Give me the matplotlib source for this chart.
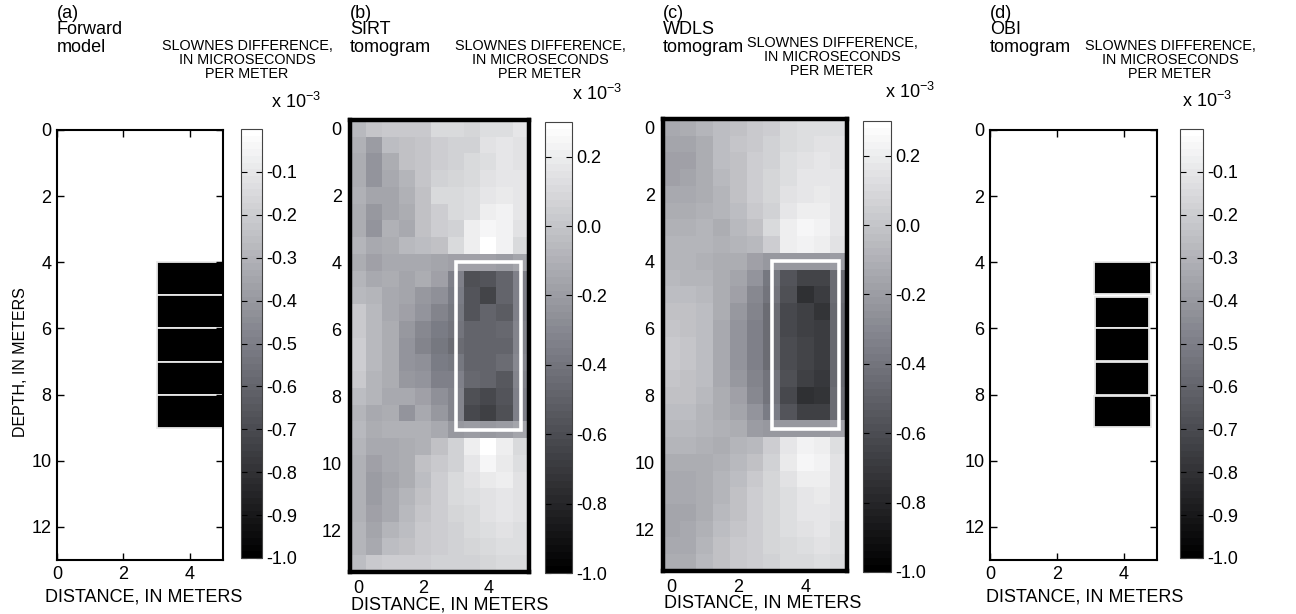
import numpy as np
import matplotlib
matplotlib.use('Agg')
import matplotlib.pyplot as plt
from matplotlib.colors import LinearSegmentedColormap, Normalize
from matplotlib.patches import Rectangle
import matplotlib.cm as cm

plt.rcParams['font.family'] = ['Liberation Sans', 'DejaVu Sans']
plt.rcParams['axes.unicode_minus'] = False
plt.rcParams['mathtext.fontset'] = 'custom'
plt.rcParams['mathtext.rm'] = 'Liberation Sans'
plt.rcParams['mathtext.it'] = 'Liberation Sans:italic'

# ---------------- data ----------------
panel_labels = ['(a)', '(b)', '(c)', '(d)']
panel_titles = [['Forward', 'model'], ['SIRT', 'tomogram'], ['WDLS', 'tomogram'], ['OBI', 'tomogram']]
cbar_header = ['SLOWNES DIFFERENCE,', 'IN MICROSECONDS', 'PER METER']
xlabel = 'DISTANCE, IN METERS'
ylabel = 'DEPTH, IN METERS'
x_ticks = [0, 2, 4]
y_ticks = [0, 2, 4, 6, 8, 10, 12]
cbar_ticks_model = [-1.0, -0.9, -0.8, -0.7, -0.6, -0.5, -0.4, -0.3, -0.2, -0.1]
cbar_ticks_tomo = [-1.0, -0.8, -0.6, -0.4, -0.2, 0.0, 0.2]

# slowness difference (x 10^-3), 27 depth cells (0 .. 13 m) x 11 distance cells (0 .. 5 m)
sirt = np.array([
    [-0.06, 0.00, 0.02, 0.03, 0.02, 0.10, 0.10, 0.08, 0.12, 0.12, 0.16],
    [-0.09, -0.19, -0.03, -0.01, 0.01, 0.05, 0.07, 0.07, 0.15, 0.16, 0.15],
    [-0.11, -0.23, -0.11, -0.01, 0.01, 0.05, 0.07, 0.10, 0.13, 0.16, 0.15],
    [-0.11, -0.23, -0.13, -0.08, 0.01, 0.07, 0.08, 0.11, 0.15, 0.17, 0.16],
    [-0.09, -0.16, -0.16, -0.09, -0.01, 0.11, 0.10, 0.13, 0.16, 0.18, 0.17],
    [-0.11, -0.21, -0.16, -0.11, -0.01, 0.05, 0.10, 0.13, 0.20, 0.22, 0.17],
    [-0.11, -0.23, -0.09, -0.13, -0.01, 0.05, 0.07, 0.21, 0.25, 0.22, 0.15],
    [-0.08, -0.13, -0.11, -0.06, -0.04, -0.01, 0.10, 0.20, 0.29, 0.22, 0.10],
    [-0.11, -0.18, -0.13, -0.13, -0.14, -0.16, -0.18, -0.18, -0.18, -0.19, -0.16],
    [-0.08, -0.13, -0.12, -0.16, -0.11, -0.18, -0.34, -0.59, -0.57, -0.49, -0.34],
    [-0.06, -0.08, -0.13, -0.16, -0.21, -0.26, -0.36, -0.57, -0.64, -0.49, -0.34],
    [0.02, -0.06, -0.13, -0.18, -0.23, -0.31, -0.39, -0.57, -0.49, -0.52, -0.34],
    [0.02, -0.06, -0.11, -0.21, -0.29, -0.36, -0.41, -0.49, -0.49, -0.46, -0.31],
    [0.05, -0.06, -0.11, -0.23, -0.31, -0.39, -0.44, -0.49, -0.49, -0.49, -0.31],
    [0.05, -0.06, -0.11, -0.23, -0.26, -0.36, -0.39, -0.49, -0.49, -0.44, -0.29],
    [0.02, -0.08, -0.11, -0.21, -0.23, -0.34, -0.34, -0.46, -0.49, -0.54, -0.31],
    [-0.03, -0.08, -0.13, -0.13, -0.18, -0.26, -0.31, -0.59, -0.62, -0.57, -0.34],
    [-0.08, -0.13, -0.11, -0.23, -0.13, -0.21, -0.31, -0.62, -0.67, -0.59, -0.34],
    [-0.06, -0.11, -0.09, -0.09, -0.09, -0.13, -0.21, -0.19, -0.21, -0.19, -0.16],
    [-0.08, -0.13, -0.14, -0.11, -0.09, -0.01, 0.07, 0.20, 0.28, 0.20, 0.10],
    [-0.09, -0.17, -0.14, -0.12, -0.01, 0.02, 0.07, 0.17, 0.25, 0.18, 0.13],
    [-0.09, -0.19, -0.16, -0.11, -0.03, 0.05, 0.10, 0.15, 0.18, 0.20, 0.15],
    [-0.09, -0.19, -0.14, -0.08, -0.01, 0.05, 0.10, 0.12, 0.15, 0.17, 0.15],
    [-0.09, -0.18, -0.13, -0.06, 0.01, 0.05, 0.08, 0.11, 0.15, 0.16, 0.15],
    [-0.08, -0.16, -0.08, -0.03, 0.02, 0.05, 0.07, 0.11, 0.13, 0.15, 0.13],
    [-0.07, -0.13, -0.03, -0.01, 0.02, 0.05, 0.06, 0.08, 0.11, 0.13, 0.12],
    [-0.03, 0.02, 0.05, 0.05, 0.05, 0.06, 0.07, 0.07, 0.08, 0.10, 0.10],
])

wdls = np.array([
    [-0.13, -0.12, -0.08, -0.03, -0.01, 0.02, 0.05, 0.10, 0.12, 0.13, 0.13],
    [-0.16, -0.16, -0.11, -0.03, 0.01, 0.03, 0.06, 0.11, 0.13, 0.15, 0.15],
    [-0.17, -0.17, -0.12, -0.04, -0.01, 0.05, 0.07, 0.12, 0.15, 0.16, 0.15],
    [-0.17, -0.16, -0.11, -0.06, -0.01, 0.05, 0.08, 0.13, 0.16, 0.17, 0.16],
    [-0.13, -0.13, -0.12, -0.07, -0.02, 0.05, 0.08, 0.15, 0.17, 0.18, 0.16],
    [-0.11, -0.11, -0.09, -0.08, -0.03, 0.02, 0.07, 0.16, 0.20, 0.20, 0.16],
    [-0.09, -0.09, -0.08, -0.11, -0.06, -0.01, 0.10, 0.20, 0.25, 0.22, 0.16],
    [-0.08, -0.08, -0.08, -0.09, -0.08, -0.06, 0.05, 0.20, 0.22, 0.20, 0.15],
    [-0.08, -0.08, -0.09, -0.11, -0.12, -0.18, -0.21, -0.21, -0.21, -0.21, -0.19],
    [-0.06, -0.07, -0.08, -0.11, -0.16, -0.23, -0.39, -0.57, -0.64, -0.64, -0.44],
    [-0.03, -0.04, -0.06, -0.12, -0.18, -0.29, -0.41, -0.59, -0.74, -0.69, -0.44],
    [-0.01, -0.02, -0.04, -0.12, -0.21, -0.31, -0.44, -0.62, -0.67, -0.72, -0.46],
    [0.01, -0.01, -0.03, -0.13, -0.23, -0.34, -0.45, -0.62, -0.67, -0.69, -0.46],
    [0.02, 0.01, -0.03, -0.13, -0.23, -0.34, -0.45, -0.60, -0.65, -0.68, -0.46],
    [0.02, 0.01, -0.03, -0.13, -0.23, -0.34, -0.44, -0.60, -0.64, -0.68, -0.46],
    [0.01, -0.01, -0.04, -0.13, -0.21, -0.31, -0.41, -0.59, -0.67, -0.70, -0.46],
    [-0.01, -0.02, -0.06, -0.12, -0.18, -0.29, -0.41, -0.62, -0.74, -0.72, -0.45],
    [-0.03, -0.04, -0.07, -0.11, -0.16, -0.23, -0.36, -0.57, -0.67, -0.67, -0.44],
    [-0.06, -0.06, -0.08, -0.09, -0.12, -0.19, -0.21, -0.21, -0.21, -0.21, -0.18],
    [-0.08, -0.08, -0.09, -0.11, -0.08, -0.06, 0.05, 0.17, 0.22, 0.20, 0.13],
    [-0.11, -0.11, -0.11, -0.09, -0.06, -0.01, 0.07, 0.18, 0.25, 0.22, 0.15],
    [-0.13, -0.13, -0.12, -0.08, -0.03, 0.02, 0.08, 0.15, 0.20, 0.20, 0.15],
    [-0.14, -0.14, -0.12, -0.07, -0.02, 0.05, 0.08, 0.13, 0.17, 0.18, 0.15],
    [-0.16, -0.16, -0.11, -0.06, -0.01, 0.05, 0.08, 0.12, 0.16, 0.17, 0.15],
    [-0.16, -0.14, -0.09, -0.04, 0.01, 0.05, 0.08, 0.12, 0.15, 0.16, 0.13],
    [-0.14, -0.13, -0.07, -0.02, 0.02, 0.05, 0.08, 0.11, 0.13, 0.15, 0.12],
    [-0.12, -0.11, -0.06, -0.01, 0.02, 0.05, 0.07, 0.10, 0.11, 0.12, 0.11],
])

# forward-model blocks (a) and OBI blocks (d): x0, x1, y0, y1, value
model_x0 = [3.0, 3.0, 3.0, 3.0, 3.0]
model_x1 = [5.0, 5.0, 5.0, 5.0, 5.0]
model_y0 = [4.0, 5.0, 6.0, 7.0, 8.0]
model_y1 = [5.0, 6.0, 7.0, 8.0, 9.0]
model_val = [-1.0, -1.0, -1.0, -1.0, -1.0]

obi_x0 = [3.10, 3.15, 3.15, 3.15, 3.12]
obi_x1 = [4.82, 4.77, 4.77, 4.77, 4.82]
obi_y0 = [4.0, 5.05, 6.0, 7.0, 8.05]
obi_y1 = [4.97, 6.0, 6.97, 8.0, 8.98]
obi_val = [-1.0, -1.0, -1.0, -1.0, -1.0]

target_box = (3.0, 4.0, 5.0, 9.0)  # x0, y0, x1, y1
tomo_extent = (-0.25, 5.25, 13.25, -0.25)

# ---------------- style ----------------
W, H = 1296, 614
cmap = LinearSegmentedColormap.from_list(
    'mgray', [(0, 0, 0), (0.49, 0.495, 0.53), (1, 1, 1)], N=64)
norm_model = Normalize(-1.0, 0.0)
norm_tomo = Normalize(-1.0, 0.3)
FS = 13


def box(x0, y0, x1, y1):
    return [x0 / W, 1 - y1 / H, (x1 - x0) / W, (y1 - y0) / H]


fig = plt.figure(figsize=(W / 100, H / 100), dpi=100)

ax_pos = [box(57, 130, 223, 560), box(350, 120, 529, 572),
          box(663, 119, 847, 571), box(990, 130, 1157, 560)]
cb_pos = [box(241, 129, 262, 558), box(545, 122, 572, 573),
          box(863, 121, 891, 572), box(1180, 129, 1203, 558)]
title_x = [57, 350, 663, 990]
title_y = [(13, 30, 47)] * 4
hdr_x = [247, 540, 832, 1170]
hdr_y = [(46, 60, 74), (46, 60, 74), (43, 57, 71), (46, 60, 74)]
exp_xy = [(271, 102), (572, 94), (885, 92), (1182, 101)]
xlabel_cx = [144, 450, 763, 1085]     # label centre, px
xlabel_top = [589, 596, 595, 589]     # label top, px

axes = [fig.add_axes(p) for p in ax_pos]

# (a) forward model and (d) OBI
for ax, xs0, xs1, ys0, ys1, vals in [
        (axes[0], model_x0, model_x1, model_y0, model_y1, model_val),
        (axes[3], obi_x0, obi_x1, obi_y0, obi_y1, obi_val)]:
    for x0, x1, y0, y1, v in zip(xs0, xs1, ys0, ys1, vals):
        ax.add_patch(Rectangle((x0, y0), x1 - x0, y1 - y0,
                               facecolor=cmap(norm_model(v)),
                               edgecolor='#e8e8e8', linewidth=1.3))
    ax.set_xlim(0, 5)
    ax.set_ylim(13, 0)
    for s in ax.spines.values():
        s.set_linewidth(1.5)
    ax.tick_params(direction='in', top=True, right=True, length=5,
                   width=1, labelsize=FS, pad=4)

# (b) SIRT and (c) WDLS
tomo_ims = []
for ax, data in [(axes[1], sirt), (axes[2], wdls)]:
    im = ax.imshow(data, cmap=cmap, norm=norm_tomo, extent=tomo_extent,
                   aspect='auto', interpolation='nearest', origin='upper')
    tomo_ims.append(im)
    x0, y0, x1, y1 = target_box
    ax.add_patch(Rectangle((x0, y0), x1 - x0, y1 - y0, fill=False,
                           edgecolor='white', linewidth=2.6))
    ax.set_xlim(tomo_extent[0], tomo_extent[1])
    ax.set_ylim(tomo_extent[2], tomo_extent[3])
    for s in ax.spines.values():
        s.set_linewidth(3.2)
    ax.tick_params(length=0, labelsize=FS, pad=6)

for i, ax in enumerate(axes):
    ax.set_xticks(x_ticks)
    ax.set_yticks(y_ticks)
    ax.set_xticklabels([str(t) for t in x_ticks])
    ax.set_yticklabels([str(t) for t in y_ticks])
    ax.set_xlabel(xlabel, fontsize=FS)
    p = ax_pos[i]
    x0px, wpx = p[0] * W, p[2] * W
    ytop_px, hpx = (1 - p[1] - p[3]) * H, p[3] * H
    ax.xaxis.set_label_coords((xlabel_cx[i] - x0px) / wpx,
                              1 - (xlabel_top[i] - ytop_px) / hpx)

axes[0].set_ylabel(ylabel, fontsize=11.5)
axes[0].yaxis.set_label_coords(-0.175, (560 - 362) / 430)

# colorbars
for i, p in enumerate(cb_pos):
    cax = fig.add_axes(p)
    if i in (0, 3):
        sm = cm.ScalarMappable(norm=norm_model, cmap=cmap)
        cb = fig.colorbar(sm, cax=cax, ticks=cbar_ticks_model)
    else:
        cb = fig.colorbar(tomo_ims[0 if i == 1 else 1], cax=cax,
                          ticks=cbar_ticks_tomo)
    cb.ax.set_yticklabels(['%.1f' % t for t in cb.get_ticks()])
    cb.outline.set_linewidth(0.8)
    cb.outline.set_edgecolor('#444444')
    cax.tick_params(direction='in', left=True, right=True, labelleft=False,
                    labelright=True, length=4, width=0.8, labelsize=FS, pad=3)

# texts
for i in range(4):
    ty = title_y[i]
    fig.text(title_x[i] / W, 1 - ty[0] / H, panel_labels[i], fontsize=FS,
             va='center', ha='left')
    fig.text(title_x[i] / W, 1 - ty[1] / H, panel_titles[i][0], fontsize=FS,
             va='center', ha='left')
    fig.text(title_x[i] / W, 1 - ty[2] / H, panel_titles[i][1], fontsize=FS,
             va='center', ha='left')
    for line, yy in zip(cbar_header, hdr_y[i]):
        fig.text(hdr_x[i] / W, 1 - yy / H, line, fontsize=10.4,
                 va='center', ha='center')
    ex, ey = exp_xy[i]
    fig.text(ex / W, 1 - ey / H, r'x 10$^{-3}$', fontsize=FS,
             va='center', ha='left')

fig.savefig('out.png', dpi=100)
